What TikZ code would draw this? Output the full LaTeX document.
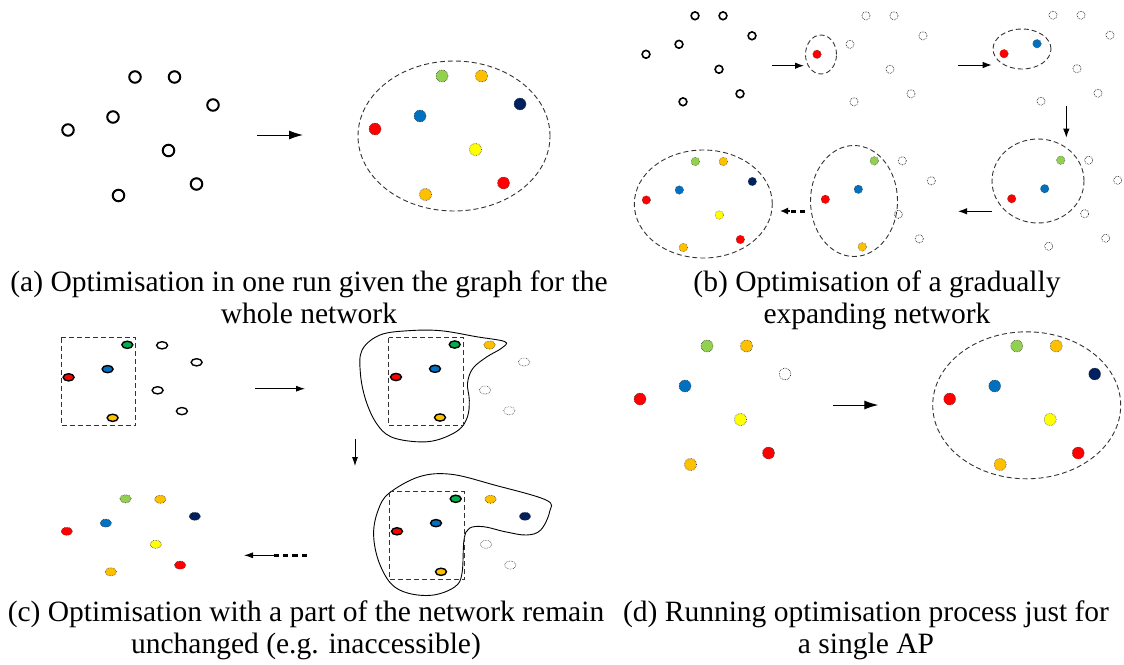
\documentclass[tikz,border=0pt]{standalone}
\usepackage{fontspec}
\setmainfont{Liberation Serif}
\usetikzlibrary{shapes.geometric,arrows.meta}

\definecolor{apred}{HTML}{FF0000}
\definecolor{apgreen}{HTML}{92D050}
\definecolor{apdkgreen}{HTML}{00B050}
\definecolor{aporange}{HTML}{FFC000}
\definecolor{apnavy}{HTML}{002060}
\definecolor{apblue}{HTML}{0070C0}
\definecolor{apyellow}{HTML}{FFFF00}

\begin{document}
\begin{tikzpicture}[x=1pt,y=-1pt,
  every node/.style={inner sep=0pt, outer sep=0pt},
  bigopen/.style={circle, draw=black, line width=2pt, minimum size=11.5pt, fill=white},
  bigdot/.style={circle, fill=#1, draw=black!75, line width=0.6pt, densely dotted, minimum size=12pt},
  bigempty/.style={circle, draw=black!80, line width=0.7pt, densely dotted, minimum size=11.5pt},
  smopen/.style={circle, draw=black, line width=1.6pt, minimum size=7.8pt},
  smdot/.style={circle, fill=#1, draw=black!75, line width=0.5pt, densely dotted, minimum size=8.6pt},
  smempty/.style={circle, draw=black!85, line width=0.7pt, densely dotted, minimum size=8.2pt},
  elopen/.style={ellipse, draw=black, line width=1.4pt, minimum width=11pt, minimum height=7.2pt, fill=#1},
  elopen/.default=white,
  eldot/.style={ellipse, fill=#1, draw=black!80, line width=0.6pt, densely dotted, minimum width=11.5pt, minimum height=8pt},
  eldot/.default=white,
  ring/.style={ellipse, draw=black!80, line width=0.9pt, dash pattern=on 5pt off 3pt},
  keep/.style={draw=black!80, line width=0.9pt, dash pattern=on 5pt off 3pt},
  blob/.style={draw=black, line width=0.9pt},
  bigarrow/.style={-{Latex[length=14pt,width=9pt]}, line width=1pt},
  midarrow/.style={-{Latex[length=9pt,width=6.5pt]}, line width=1pt},
  thinarrow/.style={-{Latex[length=9pt,width=6pt]}, line width=0.8pt},
  caption/.style={font=\fontsize{29.5}{32}\selectfont, align=center, anchor=base}
]
\useasboundingbox (0,0) rectangle (1124,664);

% ---------- (a) whole network in one run ----------
\begin{scope}[shift={(68,130)}]
  \foreach \n/\px/\py in {A/0/0, B/45/-13, C/67/-53, D/106.5/-53, E/145/-25,
                          F/100.5/20.5, G/128.5/54, H/50.5/65.5}
    \node[bigopen] (a1\n) at (\px,\py) {};
\end{scope}
\node[ring, minimum width=192pt, minimum height=150pt] (aring) at (454,136) {};
\begin{scope}[shift={(375,129)}]
  \foreach \n/\px/\py/\c in {A/0/0/apred, B/45/-13/apblue, C/67/-53/apgreen,
                             D/106.5/-53/aporange, E/145/-25/apnavy, F/100.5/20.5/apyellow,
                             G/128.5/54/apred, H/50.5/65.5/aporange}
    \node[bigdot=\c] (a2\n) at (\px,\py) {};
\end{scope}
\coordinate (aArrS) at (257,135);
\coordinate (aArrE) at (303,135);
\draw[bigarrow] (aArrS) -- (aArrE);

% ---------- (b) gradually expanding network ----------
% stage 1: nothing optimised yet
\begin{scope}[shift={(646,54.3)}]
  \foreach \n/\px/\py in {A/0/0, B/33/-10, C/49/-38.5, D/77/-38.5, E/106/-18.5,
                          F/73/15, G/94/39.5, H/37/47.5}
    \node[smopen] (b1\n) at (\px,\py) {};
\end{scope}
% stage 2
\node[ring, minimum width=31pt, minimum height=39pt] (b2ring) at (821,54.5) {};
\begin{scope}[shift={(817,54.3)}]
  \node[smdot=apred] (b2A) at (0,0) {};
  \foreach \n/\px/\py in {B/33/-10, C/49/-38.5, D/77/-38.5, E/106/-18.5,
                          F/73/15, G/94/39.5, H/37/47.5}
    \node[smempty] (b2\n) at (\px,\py) {};
\end{scope}
% stage 3
\node[ring, minimum width=58pt, minimum height=40pt] (b3ring) at (1022,49) {};
\begin{scope}[shift={(1004,53.7)}]
  \node[smdot=apred] (b3A) at (0,0) {};
  \node[smdot=apblue] (b3B) at (33,-10) {};
  \foreach \n/\px/\py in {C/49/-38.5, D/77/-38.5, E/106/-18.5,
                          F/73/15, G/94/39.5, H/37/47.5}
    \node[smempty] (b3\n) at (\px,\py) {};
\end{scope}
% stage 4
\node[ring, minimum width=92pt, minimum height=84pt] (b4ring) at (1038,181) {};
\begin{scope}[shift={(1011.7,198.7)}]
  \node[smdot=apred] (b4A) at (0,0) {};
  \node[smdot=apblue] (b4B) at (33,-10) {};
  \node[smdot=apgreen] (b4C) at (49,-38.5) {};
  \foreach \n/\px/\py in {D/77/-38.5, E/106/-18.5, F/73/15, G/94/39.5, H/37/47.5}
    \node[smempty] (b4\n) at (\px,\py) {};
\end{scope}
% stage 5
\node[ring, minimum width=87pt, minimum height=111pt] (b5ring) at (854,201) {};
\begin{scope}[shift={(825.3,199.3)}]
  \node[smdot=apred] (b5A) at (0,0) {};
  \node[smdot=apblue] (b5B) at (33,-10) {};
  \node[smdot=apgreen] (b5C) at (49,-38.5) {};
  \node[smdot=aporange] (b5H) at (37,47.5) {};
  \foreach \n/\px/\py in {D/77/-38.5, E/106/-18.5, F/73/15, G/94/39.5}
    \node[smempty] (b5\n) at (\px,\py) {};
\end{scope}
% stage 6: whole network
\node[ring, minimum width=138pt, minimum height=108pt] (b6ring) at (703.3,204) {};
\begin{scope}[shift={(646.3,200)}]
  \foreach \n/\px/\py/\c in {A/0/0/apred, B/33/-10/apblue, C/49/-38.5/apgreen,
                             D/77/-38.5/aporange, E/106/-18.5/apnavy, F/73/15/apyellow,
                             G/94/39.5/apred, H/37/47.5/aporange}
    \node[smdot=\c] (b6\n) at (\px,\py) {};
\end{scope}
% arrows between the stages
\coordinate (bA1s) at (772,65.7);  \coordinate (bA1e) at (804,65.7);
\coordinate (bA2s) at (958,65);    \coordinate (bA2e) at (991.7,65);
\coordinate (bA3s) at (1066.3,106); \coordinate (bA3e) at (1066.3,137.7);
\coordinate (bA4s) at (991.7,211.3); \coordinate (bA4e) at (958,211.3);
\coordinate (bA5s) at (805,211);   \coordinate (bA5m) at (790,211); \coordinate (bA5e) at (780,211);
\draw[midarrow] (bA1s) -- (bA1e);
\draw[midarrow] (bA2s) -- (bA2e);
\draw[midarrow] (bA3s) -- (bA3e);
\draw[midarrow] (bA4s) -- (bA4e);
\draw[line width=3pt, dash pattern=on 5pt off 4pt] (bA5s) -- (bA5m);
\draw[-{Latex[length=8pt,width=7pt]}, line width=1.5pt] (bA5m) -- (bA5e);

% ---------- (c) part of the network kept unchanged ----------
% stage 1
\begin{scope}[shift={(68.6,377.3)}]
  \draw[keep] (-7.5,-39.5) rectangle (67.2,48);
  \node[elopen=apred] (c1A) at (0,0) {};
  \node[elopen=apblue] (c1B) at (39,-8.2) {};
  \node[elopen=apdkgreen] (c1C) at (58.7,-32.5) {};
  \node[elopen=aporange] (c1H) at (44,40.5) {};
  \foreach \n/\px/\py in {D/93.5/-32, E/128/-15, F/89/13, G/113.3/33.8}
    \node[elopen] (c1\n) at (\px,\py) {};
\end{scope}
% stage 2
\draw[blob] plot[smooth cycle, tension=0.6] coordinates {
  (362.1,350) (380,335) (408.6,330.7) (440.7,330.7) (476.4,336.7) (505,341.7)
  (501.4,348.3) (487.1,356.7) (472.9,368.3) (467.5,383.3) (469.3,400) (467.5,416.7)
  (458.6,430) (437.1,440) (415.7,441.7) (390.7,436.7) (376.4,423.3) (365.7,400)
  (360.4,373.3)};
\begin{scope}[shift={(396,377)}]
  \draw[keep] (-7.5,-39.5) rectangle (67.2,48);
  \node[elopen=apred] (c2A) at (0,0) {};
  \node[elopen=apblue] (c2B) at (39,-8.2) {};
  \node[elopen=apdkgreen] (c2C) at (58.7,-32.5) {};
  \node[elopen=aporange] (c2H) at (44,40.5) {};
  \node[eldot=aporange] (c2D) at (93.5,-32) {};
  \foreach \n/\px/\py in {E/128/-15, F/89/13, G/113.3/33.8}
    \node[eldot] (c2\n) at (\px,\py) {};
\end{scope}
% stage 3
\draw[blob] plot[smooth cycle, tension=0.6] coordinates {
  (389,493.3) (419.3,476.7) (451.4,474.3) (494.3,485) (546,500) (549.6,511.7)
  (540.7,530) (526.4,535) (505,531.7) (483.6,526.7) (469.3,528.3) (464,540)
  (462,573.3) (455,586.7) (433.6,595) (408.6,593.3) (390.7,583.3) (378.2,560)
  (373.6,533.3) (378.2,510)};
\begin{scope}[shift={(397,531.3)}]
  \draw[keep] (-7.5,-39.5) rectangle (67.2,48);
  \node[elopen=apred] (c3A) at (0,0) {};
  \node[elopen=apblue] (c3B) at (39,-8.2) {};
  \node[elopen=apdkgreen] (c3C) at (58.7,-32.5) {};
  \node[elopen=aporange] (c3H) at (44,40.5) {};
  \node[eldot=aporange] (c3D) at (93.5,-32) {};
  \node[eldot=apnavy] (c3E) at (128,-15) {};
  \foreach \n/\px/\py in {F/89/13, G/113.3/33.8}
    \node[eldot] (c3\n) at (\px,\py) {};
\end{scope}
% stage 4
\begin{scope}[shift={(66.8,531.3)}]
  \foreach \n/\px/\py/\c in {A/0/0/apred, B/39/-8.2/apblue, C/58.7/-32.5/apgreen,
                             D/93.5/-32/aporange, E/128/-15/apnavy, F/89/13/apyellow,
                             G/113.3/33.8/apred, H/44/40.5/aporange}
    \node[eldot=\c] (c4\n) at (\px,\py) {};
\end{scope}
\coordinate (cA1s) at (255,388.7); \coordinate (cA1e) at (305,388.7);
\coordinate (cA2s) at (355,439);   \coordinate (cA2e) at (355,466);
\coordinate (cA3s) at (307,555.3); \coordinate (cA3m) at (273.5,555.3); \coordinate (cA3e) at (244,555.3);
\draw[thinarrow] (cA1s) -- (cA1e);
\draw[thinarrow] (cA2s) -- (cA2e);
\draw[line width=3pt, dash pattern=on 5.5pt off 4pt] (cA3s) -- (cA3m);
\draw[thinarrow] (cA3m) -- (cA3e);

% ---------- (d) a single AP ----------
\begin{scope}[shift={(640,399)}]
  \foreach \n/\px/\py/\c in {A/0/0/apred, B/45/-13/apblue, C/67/-53/apgreen,
                             D/106.5/-53/aporange, F/100.5/20.5/apyellow,
                             G/128.5/54/apred, H/50.5/65.5/aporange}
    \node[bigdot=\c] (d1\n) at (\px,\py) {};
  \node[bigempty] (d1E) at (145,-25) {};
\end{scope}
\node[ring, minimum width=188pt, minimum height=147pt] (dring) at (1026.7,405.3) {};
\begin{scope}[shift={(949.7,399)}]
  \foreach \n/\px/\py/\c in {A/0/0/apred, B/45/-13/apblue, C/67/-53/apgreen,
                             D/106.5/-53/aporange, E/145/-25/apnavy, F/100.5/20.5/apyellow,
                             G/128.5/54/apred, H/50.5/65.5/aporange}
    \node[bigdot=\c] (d2\n) at (\px,\py) {};
\end{scope}
\coordinate (dArrS) at (833.3,405);
\coordinate (dArrE) at (878.3,405);
\draw[bigarrow] (dArrS) -- (dArrE);

% ---------- captions ----------
\node[caption] (capA) at (309,323) {(a) Optimisation in one run given the graph for the\\whole network};
\node[caption] (capB) at (877,323) {(b) Optimisation of a gradually\\expanding network};
\node[caption] (capC) at (306,653) {(c) Optimisation with a part of the network remain\\unchanged (e.g. inaccessible)};
\node[caption] (capD) at (866,653) {(d) Running optimisation process just for\\a single AP};
\end{tikzpicture}
\end{document}
